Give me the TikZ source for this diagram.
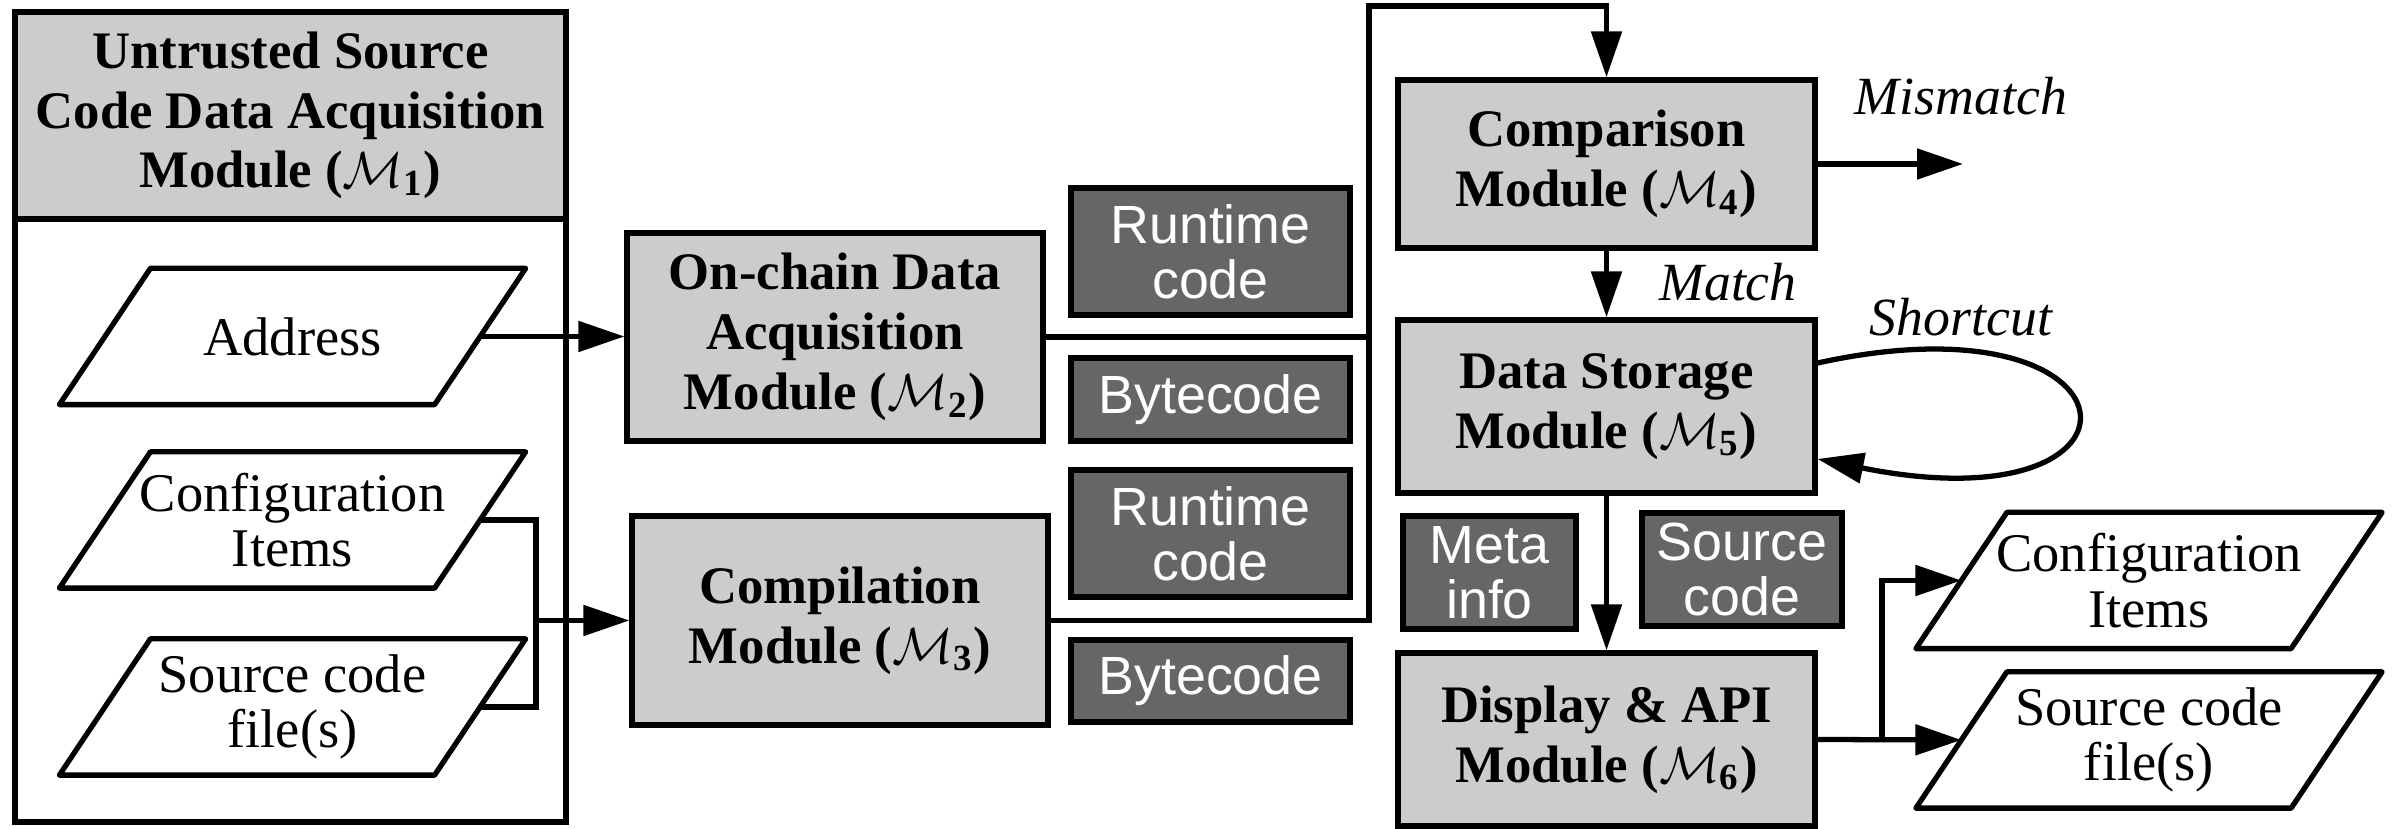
\documentclass[tikz,border=0pt]{standalone}
\usepackage{fontspec}
\setmainfont{Liberation Serif}
\setsansfont{Liberation Sans}
\usepackage{tikz}
\usetikzlibrary{shapes.geometric}
\usetikzlibrary{arrows.meta}
\usetikzlibrary{positioning}

\definecolor{modgray}{HTML}{CCCCCC}
\definecolor{datagray}{HTML}{666666}

\begin{document}
\begin{tikzpicture}[
  x=0.1mm, y=-0.1mm,
  line width=1.5pt,
  module/.style={rectangle,draw,fill=modgray,align=center,inner sep=0pt,
    minimum width=41.7mm,font=\fontsize{15}{17}\selectfont\bfseries},
  datum/.style={rectangle,draw,fill=datagray,text=white,align=center,inner sep=0pt,
    font=\fontsize{15.3}{15.6}\selectfont\sffamily},
  io/.style={rectangle,align=center,inner sep=0pt,
    minimum width=37mm,minimum height=13.1mm,font=\fontsize{15.5}{15.8}\selectfont,
    append after command={\pgfextra{\draw[line join=round]
      ([xshift=-4.55mm]\tikzlastnode.south west) -- ([xshift=4.55mm]\tikzlastnode.north west)
      -- ([xshift=4.55mm]\tikzlastnode.north east) -- ([xshift=-4.55mm]\tikzlastnode.south east)
      -- cycle;}}},
  lbl/.style={font=\fontsize{15.3}{15.3}\selectfont\itshape},
  arr/.style={-{Triangle[length=4.6mm,width=3mm]}}
]
\useasboundingbox (0,0) rectangle (2399,829);

% untrusted source side
\node[module,minimum width=55.1mm,minimum height=20.7mm] (m1) at (290.5,115.5)
  {Untrusted Source\\Code Data Acquisition\\Module ($\mathcal{M}_{\mathbf{1}}$)};
\node[draw,minimum width=55.1mm,minimum height=60.3mm,inner sep=0pt] (m1body) at (290.5,520.5) {};
\node[io] (addr) at (292.5,336.5) {Address};
\node[io] (cfgl) at (292.5,520) {Configuration\\Items};
\node[io] (srcl) at (292.5,707) {Source code\\file(s)};

% on-chain and compilation
\node[module,minimum width=41.6mm,minimum height=20.8mm] (m2) at (835,337)
  {On-chain Data\\Acquisition\\Module ($\mathcal{M}_{\mathbf{2}}$)};
\node[module,minimum width=41.6mm,minimum height=20.9mm] (m3) at (840,620.5)
  {Compilation\\Module ($\mathcal{M}_{\mathbf{3}}$)};
\node[datum,minimum width=27.9mm,minimum height=12.7mm] (rt1) at (1210.5,251.5) {Runtime\\code};
\node[datum,minimum width=27.9mm,minimum height=8.3mm] (bc1) at (1210.5,399.5) {Bytecode};
\node[datum,minimum width=27.9mm,minimum height=12.7mm] (rt2) at (1210.5,533.5) {Runtime\\code};
\node[datum,minimum width=27.9mm,minimum height=8.2mm] (bc2) at (1210.5,681) {Bytecode};

% comparison, storage, display
\node[module,minimum height=16.8mm] (m4) at (1606.5,164) {Comparison\\Module ($\mathcal{M}_{\mathbf{4}}$)};
\node[module,minimum height=17.3mm] (m5) at (1606.5,406.5) {Data Storage\\Module ($\mathcal{M}_{\mathbf{5}}$)};
\node[datum,minimum width=17.3mm,minimum height=11.3mm] (meta) at (1489.5,572.5) {Meta\\info};
\node[datum,minimum width=20mm,minimum height=11.3mm] (srcd) at (1742,569.5) {Source\\code};
\node[module,minimum height=17.3mm] (m6) at (1606.5,739.5) {Display \& API\\Module ($\mathcal{M}_{\mathbf{6}}$)};
\node[io] (cfgr) at (2149,580.5) {Configuration\\Items};
\node[io] (srcr) at (2149,740) {Source code\\file(s)};

\coordinate (join) at (536,620.5);
\coordinate (bus) at (1369,6);
\coordinate (mis) at (1963,164);
\coordinate (fork) at (1882,739.5);

\draw[arr] (addr.east) -- (m2.west |- addr.east);
\draw (cfgl.east) -| (join) |- (srcl.east);
\draw[arr] (join) -- (m3.west);
\draw (m2.east) -- (m2.east -| bus);
\draw[arr] (m3.east) -| (bus) -| (m4.north);
\draw[arr] (m4.east) -- (mis);
\node[lbl] at (1961,96) {Mismatch};
\draw[arr] (m4) -- (m5);
\node[lbl] at (1728,282) {Match};
\draw[arr] (m5.east |- 0,363) .. controls (2150,290) and (2170,530) .. (m5.east |- 0,459);
\node[lbl] at (1961,317) {Shortcut};
\draw[arr] (m5) -- (m6);
\draw[arr] (m6.east) -- (srcr.west);
\draw[arr] (fork) |- (cfgr.west);
\end{tikzpicture}
\end{document}
